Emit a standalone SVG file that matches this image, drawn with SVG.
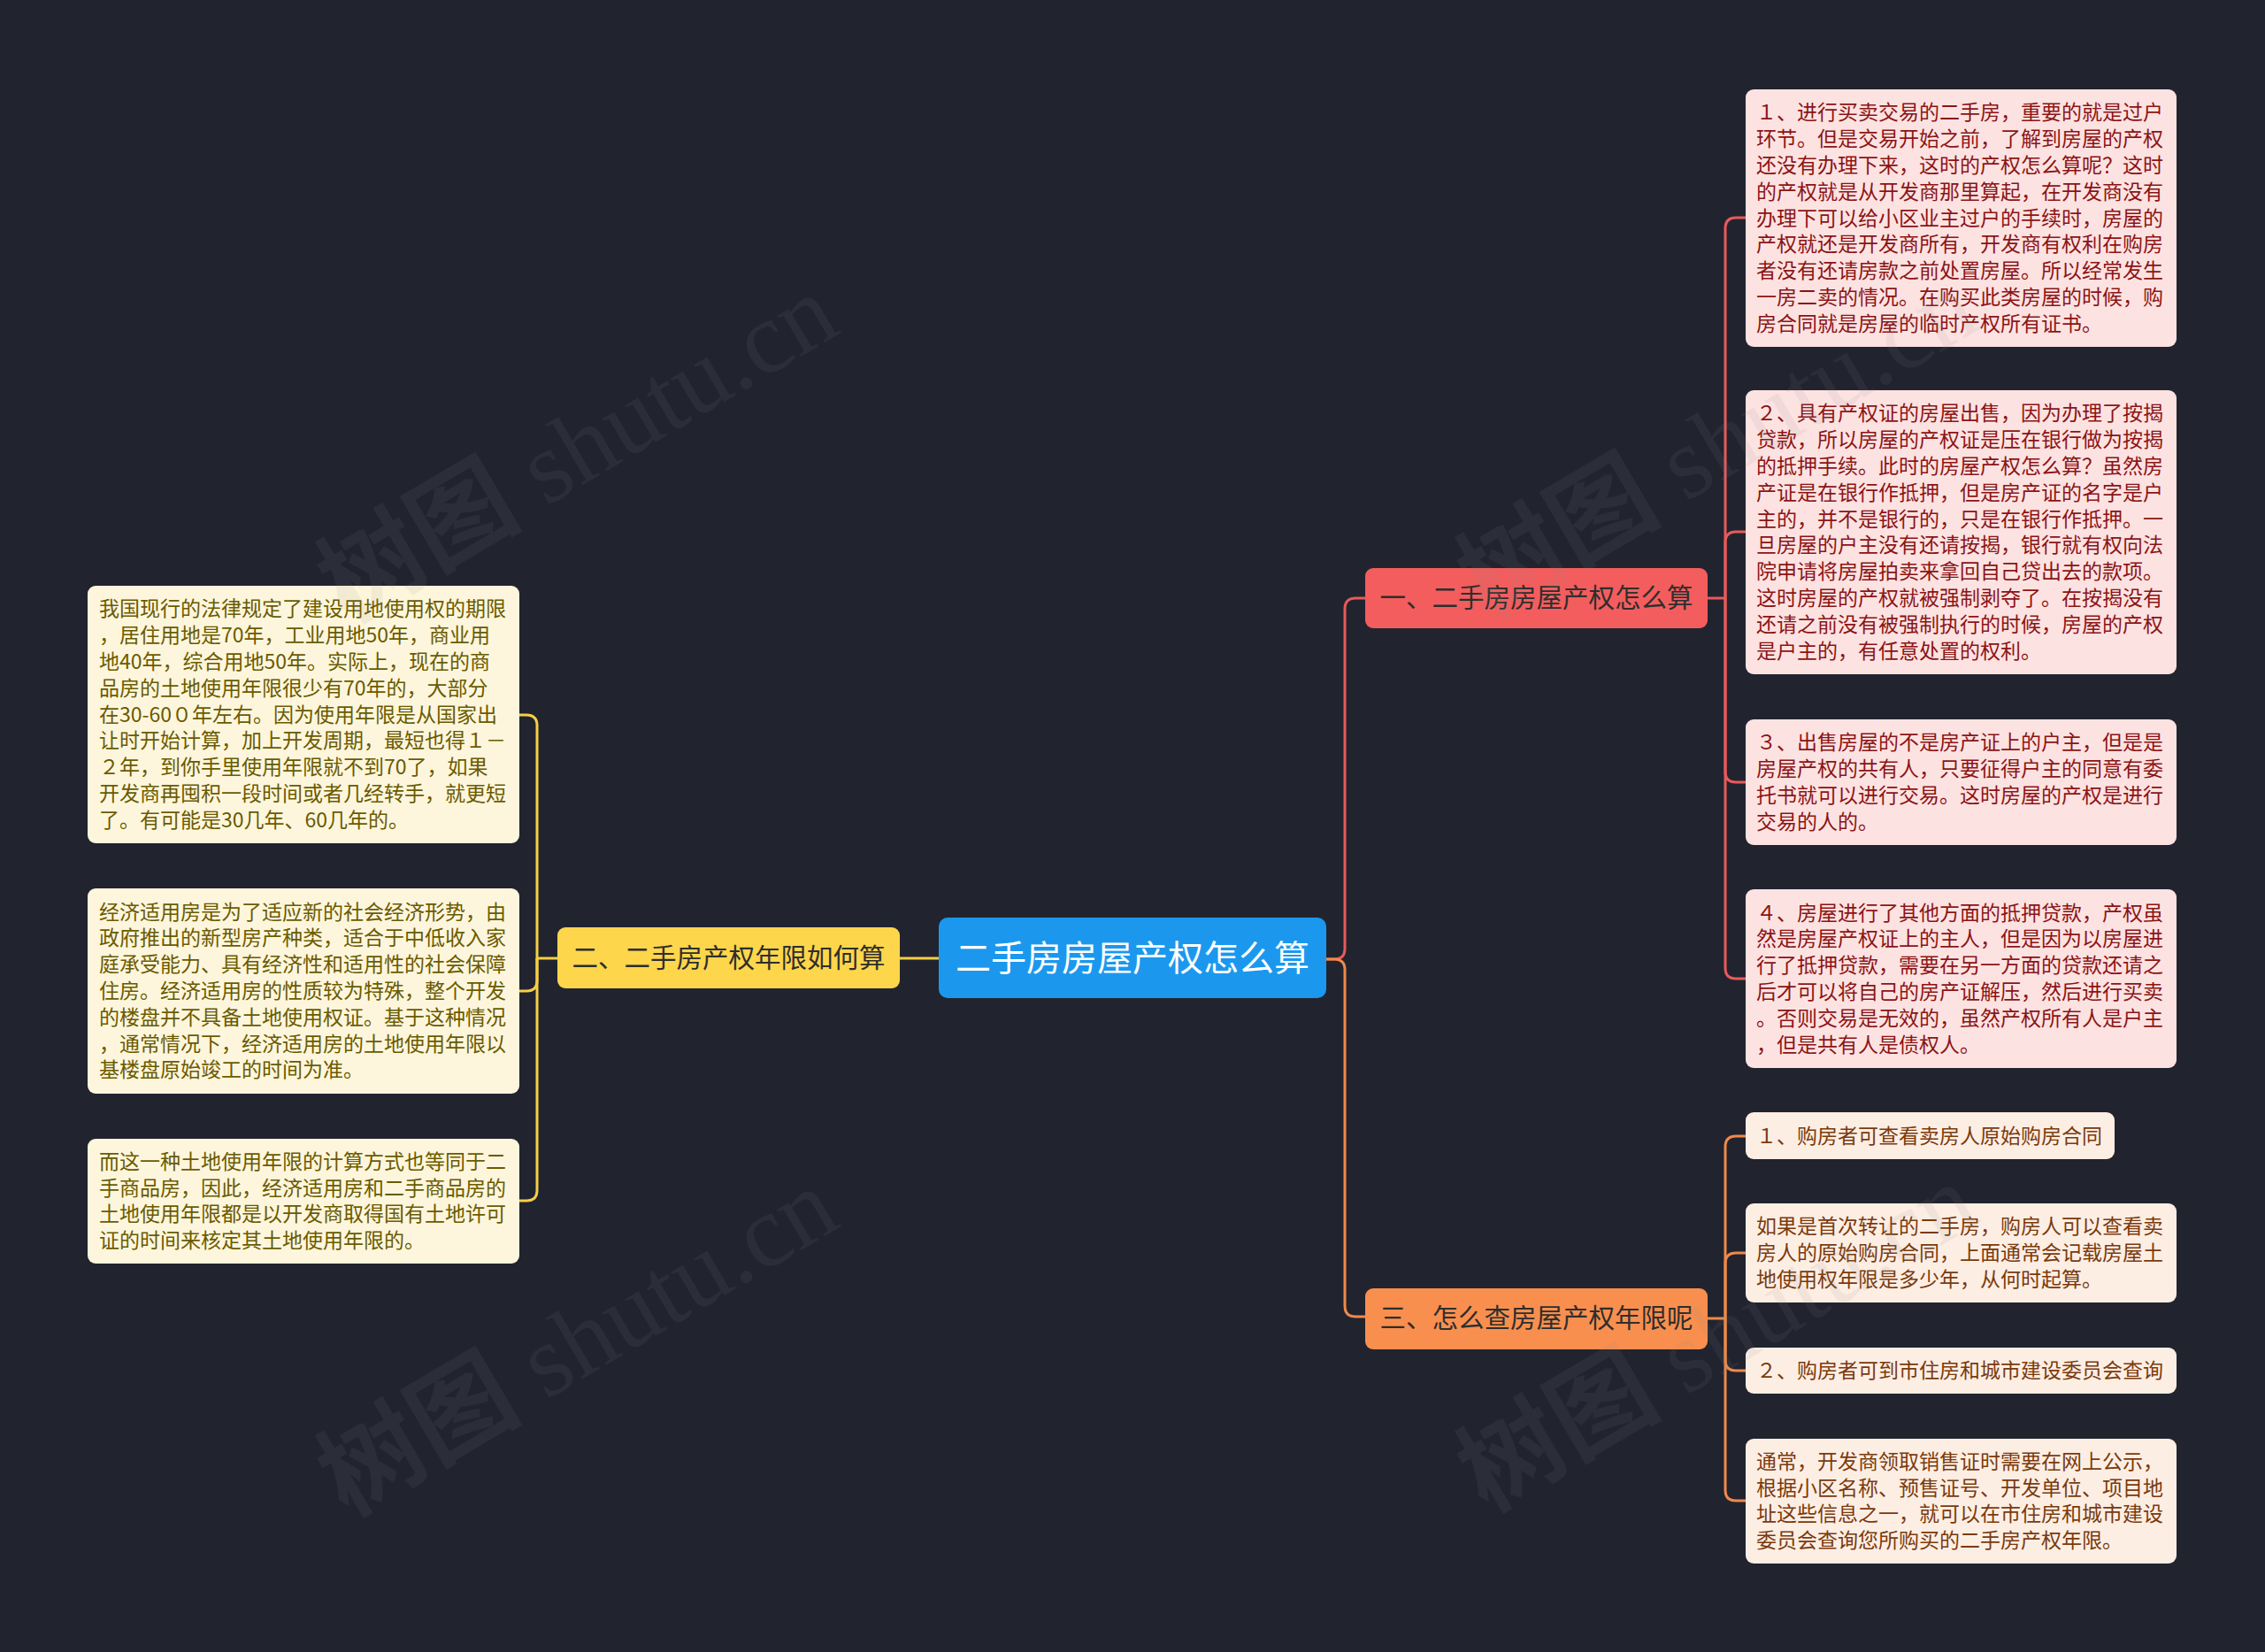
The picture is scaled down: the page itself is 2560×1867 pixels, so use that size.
<svg xmlns="http://www.w3.org/2000/svg" width="2560" height="1867" viewBox="0 0 2560 1867">
<style>
.t{font-family:"Noto Sans CJK SC","Noto Sans",sans-serif;}
.leafR{fill:#fde2e2;}
.leafO{fill:#fdeee4;}
.leafY{fill:#fdf6dc;}
.txR{font-size:23px;fill:#8b1414;}
.txO{font-size:23px;fill:#7a3a0c;}
.txY{font-size:23px;fill:#6b5a00;}
.br{font-size:29.5px;fill:#2e2e2e;text-anchor:middle;}
.cR{fill:none;stroke:#e85a5a;stroke-width:3;}
.cO{fill:none;stroke:#f0894a;stroke-width:3;}
.cY{fill:none;stroke:#f5cf45;stroke-width:3;}
.wm{font-family:"Liberation Serif","Noto Sans CJK SC",serif;font-size:116px;fill:#8a8a8a;fill-opacity:0.1;text-anchor:middle;}
.wmc{font-family:"Noto Sans CJK SC",sans-serif;font-weight:bold;}
</style>
<rect x="0" y="0" width="2560" height="1867" fill="#21242f"/>

<g id="connectors">
<path class="cR" d="M1499,1084 H1508 Q1520,1084 1520,1072 V688 Q1520,676 1532,676 H1543"/>
<path class="cO" d="M1499,1084 H1508 Q1520,1084 1520,1096 V1476 Q1520,1488 1532,1488 H1543"/>
<path class="cY" d="M1061,1083 H1017"/>
<path class="cR" d="M1930,676 H1950 V258 Q1950,246 1962,246 H1973"/>
<path class="cR" d="M1950,676 V613 Q1950,601 1962,601 H1973"/>
<path class="cR" d="M1950,676 V872 Q1950,884 1962,884 H1973"/>
<path class="cR" d="M1950,676 V1094 Q1950,1106 1962,1106 H1973"/>
<path class="cO" d="M1930,1490 H1950 V1296 Q1950,1284 1962,1284 H1973"/>
<path class="cO" d="M1950,1490 V1428 Q1950,1416 1962,1416 H1973"/>
<path class="cO" d="M1950,1490 V1537 Q1950,1549 1962,1549 H1973"/>
<path class="cO" d="M1950,1490 V1684 Q1950,1696 1962,1696 H1973"/>
<path class="cY" d="M630,1083 H607 V820 Q607,808 595,808 H587"/>
<path class="cY" d="M607,1083 V1108 Q607,1120 595,1120 H587"/>
<path class="cY" d="M607,1083 V1345 Q607,1357 595,1357 H587"/>
</g>

<g id="center">
<rect x="1061" y="1037" width="438" height="91" rx="10" fill="#1b98ee"/>
<text class="t" x="1280" y="1097" font-size="40" fill="#ffffff" text-anchor="middle">二手房房屋产权怎么算</text>
</g>

<g id="branch1">
<rect x="1543" y="642" width="387" height="68" rx="9" fill="#f45d5d"/>
<text class="t br" x="1736.5" y="686">一、二手房房屋产权怎么算</text>
</g>
<g id="branch2">
<rect x="630" y="1048" width="387" height="69" rx="9" fill="#fdd64b"/>
<text class="t br" x="823.5" y="1093">二、二手房产权年限如何算</text>
</g>
<g id="branch3">
<rect x="1543" y="1456" width="387" height="69" rx="9" fill="#f98f4e"/>
<text class="t br" x="1736.5" y="1500">三、怎么查房屋产权年限呢</text>
</g>

<g id="leaf-r1">
<rect class="leafR" x="1973" y="101" width="487" height="291" rx="9"/>
<text class="t txR" x="1985" y="135.3"><tspan x="1985">１、进行买卖交易的二手房，重要的就是过户</tspan><tspan x="1985" dy="29.8">环节。但是交易开始之前，了解到房屋的产权</tspan><tspan x="1985" dy="29.8">还没有办理下来，这时的产权怎么算呢？这时</tspan><tspan x="1985" dy="29.8">的产权就是从开发商那里算起，在开发商没有</tspan><tspan x="1985" dy="29.8">办理下可以给小区业主过户的手续时，房屋的</tspan><tspan x="1985" dy="29.8">产权就还是开发商所有，开发商有权利在购房</tspan><tspan x="1985" dy="29.8">者没有还请房款之前处置房屋。所以经常发生</tspan><tspan x="1985" dy="29.8">一房二卖的情况。在购买此类房屋的时候，购</tspan><tspan x="1985" dy="29.8">房合同就是房屋的临时产权所有证书。</tspan></text>
</g>
<g id="leaf-r2">
<rect class="leafR" x="1973" y="441" width="487" height="321" rx="9"/>
<text class="t txR" x="1985" y="475.4"><tspan x="1985">２、具有产权证的房屋出售，因为办理了按揭</tspan><tspan x="1985" dy="29.8">贷款，所以房屋的产权证是压在银行做为按揭</tspan><tspan x="1985" dy="29.8">的抵押手续。此时的房屋产权怎么算？虽然房</tspan><tspan x="1985" dy="29.8">产证是在银行作抵押，但是房产证的名字是户</tspan><tspan x="1985" dy="29.8">主的，并不是银行的，只是在银行作抵押。一</tspan><tspan x="1985" dy="29.8">旦房屋的户主没有还请按揭，银行就有权向法</tspan><tspan x="1985" dy="29.8">院申请将房屋拍卖来拿回自己贷出去的款项。</tspan><tspan x="1985" dy="29.8">这时房屋的产权就被强制剥夺了。在按揭没有</tspan><tspan x="1985" dy="29.8">还请之前没有被强制执行的时候，房屋的产权</tspan><tspan x="1985" dy="29.8">是户主的，有任意处置的权利。</tspan></text>
</g>
<g id="leaf-r3">
<rect class="leafR" x="1973" y="813" width="487" height="142" rx="9"/>
<text class="t txR" x="1985" y="847.3"><tspan x="1985">３、出售房屋的不是房产证上的户主，但是是</tspan><tspan x="1985" dy="29.8">房屋产权的共有人，只要征得户主的同意有委</tspan><tspan x="1985" dy="29.8">托书就可以进行交易。这时房屋的产权是进行</tspan><tspan x="1985" dy="29.8">交易的人的。</tspan></text>
</g>
<g id="leaf-r4">
<rect class="leafR" x="1973" y="1005" width="487" height="202" rx="9"/>
<text class="t txR" x="1985" y="1039.5"><tspan x="1985">４、房屋进行了其他方面的抵押贷款，产权虽</tspan><tspan x="1985" dy="29.8">然是房屋产权证上的主人，但是因为以房屋进</tspan><tspan x="1985" dy="29.8">行了抵押贷款，需要在另一方面的贷款还请之</tspan><tspan x="1985" dy="29.8">后才可以将自己的房产证解压，然后进行买卖</tspan><tspan x="1985" dy="29.8">。否则交易是无效的，虽然产权所有人是户主</tspan><tspan x="1985" dy="29.8">，但是共有人是债权人。</tspan></text>
</g>

<g id="leaf-o1">
<rect class="leafO" x="1973" y="1257" width="417" height="53" rx="9"/>
<text class="t txO" x="1985" y="1291.5">１、购房者可查看卖房人原始购房合同</text>
</g>
<g id="leaf-o2">
<rect class="leafO" x="1973" y="1360" width="487" height="112" rx="9"/>
<text class="t txO" x="1985" y="1394.2"><tspan x="1985">如果是首次转让的二手房，购房人可以查看卖</tspan><tspan x="1985" dy="29.8">房人的原始购房合同，上面通常会记载房屋土</tspan><tspan x="1985" dy="29.8">地使用权年限是多少年，从何时起算。</tspan></text>
</g>
<g id="leaf-o3">
<rect class="leafO" x="1973" y="1523" width="487" height="52" rx="9"/>
<text class="t txO" x="1985" y="1557">２、购房者可到市住房和城市建设委员会查询</text>
</g>
<g id="leaf-o4">
<rect class="leafO" x="1973" y="1626" width="487" height="141" rx="9"/>
<text class="t txO" x="1985" y="1659.8"><tspan x="1985">通常，开发商领取销售证时需要在网上公示，</tspan><tspan x="1985" dy="29.8">根据小区名称、预售证号、开发单位、项目地</tspan><tspan x="1985" dy="29.8">址这些信息之一，就可以在市住房和城市建设</tspan><tspan x="1985" dy="29.8">委员会查询您所购买的二手房产权年限。</tspan></text>
</g>

<g id="leaf-y1">
<rect class="leafY" x="99" y="662" width="488" height="291" rx="9"/>
<text class="t txY" x="112" y="696.3"><tspan x="112">我国现行的法律规定了建设用地使用权的期限</tspan><tspan x="112" dy="29.8">，居住用地是70年，工业用地50年，商业用</tspan><tspan x="112" dy="29.8">地40年，综合用地50年。实际上，现在的商</tspan><tspan x="112" dy="29.8">品房的土地使用年限很少有70年的，大部分</tspan><tspan x="112" dy="29.8">在30-60０年左右。因为使用年限是从国家出</tspan><tspan x="112" dy="29.8">让时开始计算，加上开发周期，最短也得１－</tspan><tspan x="112" dy="29.8">２年，到你手里使用年限就不到70了，如果</tspan><tspan x="112" dy="29.8">开发商再囤积一段时间或者几经转手，就更短</tspan><tspan x="112" dy="29.8">了。有可能是30几年、60几年的。</tspan></text>
</g>
<g id="leaf-y2">
<rect class="leafY" x="99" y="1004" width="488" height="232" rx="9"/>
<text class="t txY" x="112" y="1038.6"><tspan x="112">经济适用房是为了适应新的社会经济形势，由</tspan><tspan x="112" dy="29.8">政府推出的新型房产种类，适合于中低收入家</tspan><tspan x="112" dy="29.8">庭承受能力、具有经济性和适用性的社会保障</tspan><tspan x="112" dy="29.8">住房。经济适用房的性质较为特殊，整个开发</tspan><tspan x="112" dy="29.8">的楼盘并不具备土地使用权证。基于这种情况</tspan><tspan x="112" dy="29.8">，通常情况下，经济适用房的土地使用年限以</tspan><tspan x="112" dy="29.8">基楼盘原始竣工的时间为准。</tspan></text>
</g>
<g id="leaf-y3">
<rect class="leafY" x="99" y="1287" width="488" height="141" rx="9"/>
<text class="t txY" x="112" y="1320.8"><tspan x="112">而这一种土地使用年限的计算方式也等同于二</tspan><tspan x="112" dy="29.8">手商品房，因此，经济适用房和二手商品房的</tspan><tspan x="112" dy="29.8">土地使用年限都是以开发商取得国有土地许可</tspan><tspan x="112" dy="29.8">证的时间来核定其土地使用年限的。</tspan></text>
</g>

<g id="watermark">
<text class="wm" transform="translate(652,505) rotate(-30.5)" dy="0.35em"><tspan class="wmc">树图</tspan> shutu.cn</text>
<text class="wm" transform="translate(1940,500) rotate(-30.5)" dy="0.35em"><tspan class="wmc">树图</tspan> shutu.cn</text>
<text class="wm" transform="translate(652,1515) rotate(-30.5)" dy="0.35em"><tspan class="wmc">树图</tspan> shutu.cn</text>
<text class="wm" transform="translate(1940,1510) rotate(-30.5)" dy="0.35em"><tspan class="wmc">树图</tspan> shutu.cn</text>
</g>
</svg>
